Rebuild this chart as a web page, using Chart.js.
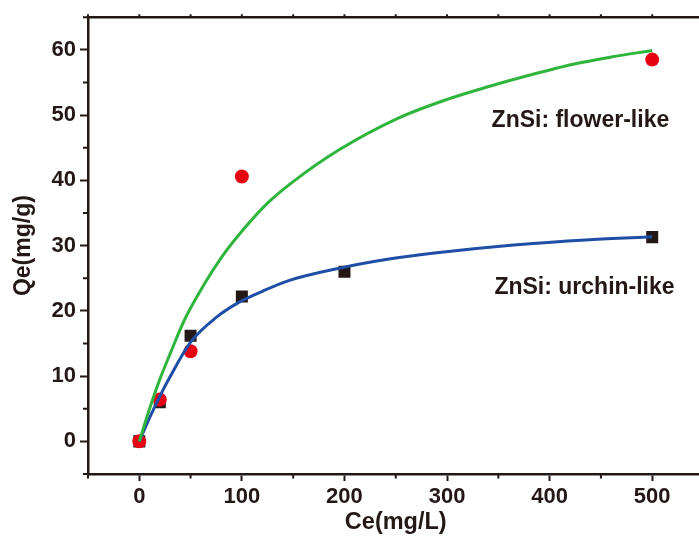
<!DOCTYPE html>
<html>
<head>
<meta charset="utf-8">
<script src="https://cdn.jsdelivr.net/npm/chart.js@4.4.1/dist/chart.umd.min.js"></script>
<style>
  html, body { margin: 0; padding: 0; background: #fff; overflow: hidden; }
  #wrap { position: absolute; left: 0; top: 0; width: 712px; height: 537px; }
</style>
</head>
<body>
<div id="wrap"><canvas id="myChart"></canvas></div>
<script>
// measured points
const Urchin_ce = [0, 20, 50, 100, 200, 500];
const Urchin_qe = [0, 6.0, 16.2, 22.2, 26.0, 31.3];
const Flower_ce = [0, 20, 50, 100, 500];
const Flower_qe = [0, 6.4, 13.8, 40.6, 58.5];
// fitted curves
const Flower_fit_ce = [0, 10, 20, 30, 44, 60, 82, 100, 125, 150, 194, 252, 300, 339, 380, 423, 460, 500];
const Flower_fit_qe = [0, 5.0, 9.5, 13.4, 18.6, 23.2, 28.6, 32.2, 36.5, 39.8, 44.6, 49.5, 52.4, 54.3, 56.1, 57.8, 58.9, 59.9];
const Urchin_fit_ce = [0, 10, 20, 30, 50, 75, 97, 120, 145, 194, 242, 290, 365, 439, 500];
const Urchin_fit_qe = [0, 3.6, 6.9, 9.9, 15.2, 19.0, 21.3, 23.0, 24.6, 26.5, 27.9, 28.9, 30.1, 30.9, 31.35];
// in-plot labels
const Label_text = ["ZnSi: flower-like", "ZnSi: urchin-like"];
const Label_ce = [430, 434];
const Label_qe = [49.2, 23.6];

const Ink = '#231815';
const Font = "'Liberation Sans', Arial, sans-serif";

function to_points(xs, ys) {
  return xs.map((x, i) => ({x: x, y: ys[i]}));
}

const frame_plugin = {
  id: 'frame',
  afterDraw(chart) {
    const ctx = chart.ctx;
    const area = chart.chartArea;
    const xs = chart.scales.x;
    const ys = chart.scales.y;
    ctx.save();
    ctx.strokeStyle = Ink;
    ctx.lineWidth = 2.5;
    // top border
    ctx.beginPath();
    ctx.moveTo(area.left - 1.25, area.top);
    ctx.lineTo(area.right, area.top);
    ctx.stroke();
    ctx.lineWidth = 2;
    ctx.beginPath();
    for (let v = -50; v <= 550; v += 50) {
      const px = xs.getPixelForValue(v);
      ctx.moveTo(px, area.top);
      ctx.lineTo(px, area.top - 3);
      if (v % 100 != 0) { // minor ticks at the bottom
        ctx.moveTo(px, area.bottom);
        ctx.lineTo(px, area.bottom + 4.5);
      }
    }
    for (let v = -5; v <= 65; v += 5) {
      if (v % 10 == 0) continue;
      const py = ys.getPixelForValue(v);
      ctx.moveTo(area.left, py);
      ctx.lineTo(area.left - 5, py);
    }
    ctx.stroke();
    // labels
    ctx.fillStyle = Ink;
    ctx.font = "bold 23px " + Font;
    ctx.textAlign = 'center';
    ctx.textBaseline = 'middle';
    for (let i = 0; i < Label_text.length; i++) {
      ctx.fillText(Label_text[i], xs.getPixelForValue(Label_ce[i]), ys.getPixelForValue(Label_qe[i]));
    }
    ctx.restore();
  }
};

new Chart("myChart", {
  type: 'scatter',
  data: {
    datasets: [
      {
        label: 'flower fit', type: 'line', order: 0,
        data: to_points(Flower_fit_ce, Flower_fit_qe),
        borderColor: '#2fb53c', borderWidth: 3, pointRadius: 0, fill: false,
        cubicInterpolationMode: 'monotone',
      }, {
        label: 'urchin fit', type: 'line', order: 1,
        data: to_points(Urchin_fit_ce, Urchin_fit_qe),
        borderColor: '#1f4ea6', borderWidth: 3, pointRadius: 0, fill: false,
        cubicInterpolationMode: 'monotone',
      }, {
        label: 'ZnSi: flower-like', order: 2,
        data: to_points(Flower_ce, Flower_qe),
        pointStyle: 'circle', pointRadius: 7, backgroundColor: '#e60012', borderWidth: 0,
      }, {
        label: 'ZnSi: urchin-like', order: 3,
        data: to_points(Urchin_ce, Urchin_qe),
        pointStyle: 'rect', pointRadius: 8.5, backgroundColor: Ink, borderWidth: 0,
      },
    ]
  },
  options: {
    responsive: true,
    maintainAspectRatio: false,
    animation: false,
    layout: {padding: {top: 14, right: 4, left: 0, bottom: 0}},
    plugins: {legend: {display: false}, tooltip: {enabled: false}},
    scales: {
      x: {
        type: 'linear', min: -50, max: 550,
        afterFit: s => { s.height = 63; },
        border: {color: Ink, width: 2.5},
        grid: {
          drawOnChartArea: false, tickLength: 7, tickWidth: 2,
          tickColor: c => (c.tick && c.tick.value % 100 == 0) ? Ink : 'transparent',
        },
        ticks: {
          stepSize: 50, autoSkip: false, maxRotation: 0, padding: 3,
          color: Ink, font: {family: Font, size: 22, weight: 'bold'},
          callback: v => (v % 100 == 0) ? v : '',
        },
        title: {
          display: true, text: 'Ce(mg/L)', color: Ink,
          font: {family: Font, size: 23.5, weight: 'bold', lineHeight: 1.2},
          padding: {top: 0, bottom: 0},
        },
      },
      y: {
        type: 'linear', min: -5, max: 65,
        afterFit: s => { s.width = 88; },
        border: {color: Ink, width: 2.5},
        grid: {
          drawOnChartArea: false, tickLength: 8, tickWidth: 2,
          tickColor: c => (c.tick && c.tick.value % 10 == 0) ? Ink : 'transparent',
        },
        ticks: {
          stepSize: 5, autoSkip: false, padding: 4,
          color: Ink, font: {family: Font, size: 22, weight: 'bold'},
          callback: v => (v % 10 == 0) ? v : '',
        },
        title: {
          display: true, text: 'Qe(mg/g)', color: Ink,
          font: {family: Font, size: 23, weight: 'bold', lineHeight: 1.2},
          padding: {top: 10, bottom: 0},
        },
      },
    },
  },
  plugins: [frame_plugin],
});
</script>
</body>
</html>
